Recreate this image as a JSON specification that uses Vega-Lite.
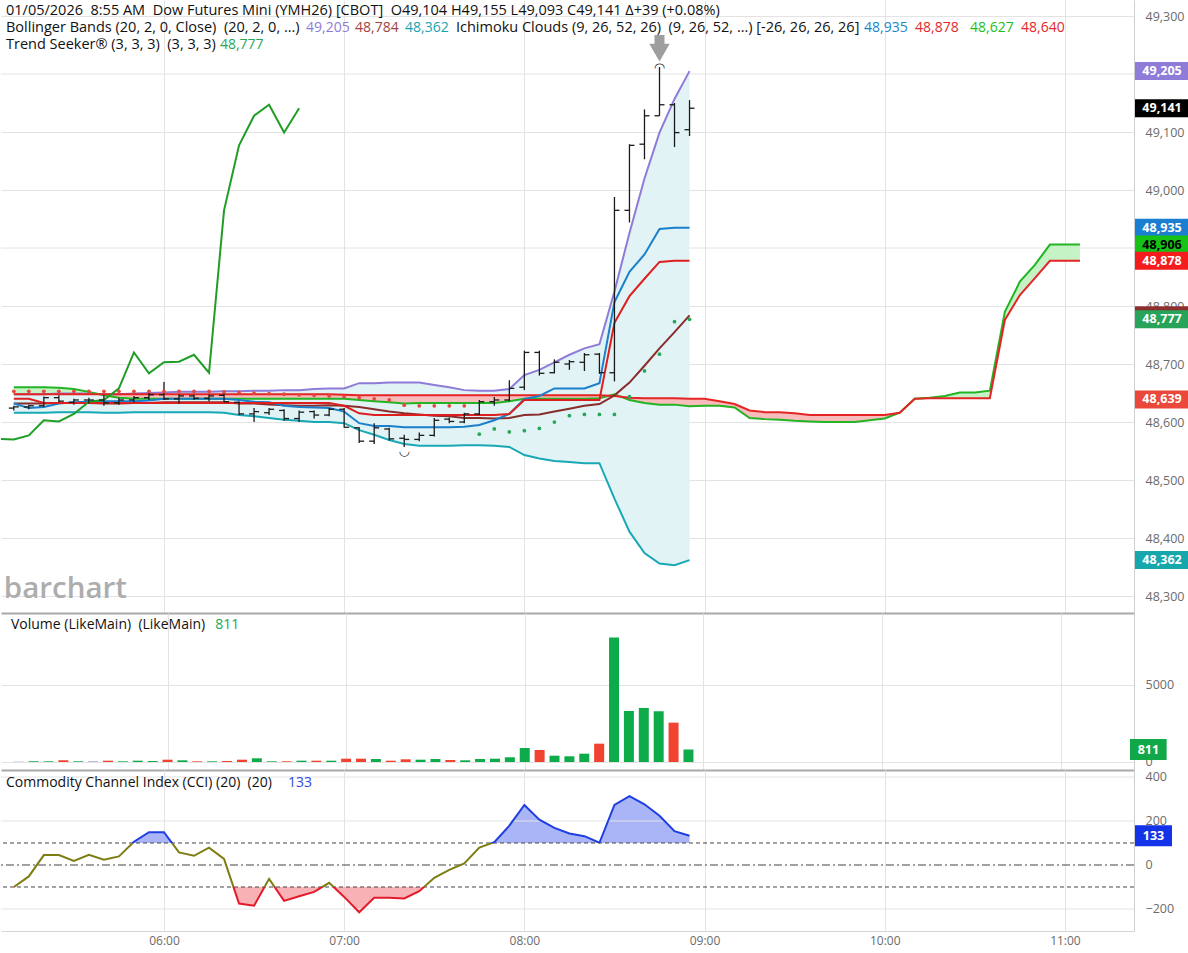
{
"$schema":"https://vega.github.io/schema/vega-lite/v6.json",
"padding":{"left":0,"top":0,"right":0,"bottom":5},"spacing":0,"background":"#ffffff",
"resolve":{"scale":{"color":"independent"}},
"config":{"view":{"stroke":null},"font":"Open Sans"},
"datasets":{
"one":[{}],
"bars":[
{"t":"2026-01-05T05:10Z","o":48624,"h":48628,"l":48620,"c":48626,"vol":20,"dir":"flat","bbU":48648,"bbM":48632,"bbL":48616,"tk":48632,"kj":48640,"ts":48653,"side":"sell","cci":-100},
{"t":"2026-01-05T05:15Z","o":48626,"h":48630,"l":48622,"c":48628,"vol":45,"dir":"up","bbU":48648,"bbM":48632,"bbL":48616,"tk":48624,"kj":48640,"ts":48653,"side":"sell","cci":-52},
{"t":"2026-01-05T05:20Z","o":48628,"h":48644,"l":48626,"c":48642,"vol":45,"dir":"up","bbU":48648,"bbM":48632,"bbL":48616,"tk":48626,"kj":48633,"ts":48653,"side":"sell","cci":45},
{"t":"2026-01-05T05:25Z","o":48642,"h":48646,"l":48634,"c":48636,"vol":110,"dir":"down","bbU":48649,"bbM":48633,"bbL":48617,"tk":48632,"kj":48633,"ts":48653,"side":"sell","cci":45},
{"t":"2026-01-05T05:30Z","o":48634,"h":48640,"l":48630,"c":48638,"vol":45,"dir":"up","bbU":48649,"bbM":48633,"bbL":48617,"tk":48634,"kj":48633,"ts":48653,"side":"sell","cci":19},
{"t":"2026-01-05T05:35Z","o":48638,"h":48642,"l":48632,"c":48638,"vol":45,"dir":"flat","bbU":48649,"bbM":48633,"bbL":48617,"tk":48635,"kj":48633,"ts":48653,"side":"sell","cci":46},
{"t":"2026-01-05T05:40Z","o":48638,"h":48646,"l":48628,"c":48633,"vol":85,"dir":"down","bbU":48648,"bbM":48632,"bbL":48616,"tk":48636,"kj":48633,"ts":48653,"side":"sell","cci":24},
{"t":"2026-01-05T05:45Z","o":48633,"h":48642,"l":48630,"c":48638,"vol":45,"dir":"up","bbU":48648,"bbM":48632,"bbL":48616,"tk":48636,"kj":48633,"ts":48653,"side":"sell","cci":39},
{"t":"2026-01-05T05:50Z","o":48638,"h":48645,"l":48634,"c":48642,"vol":85,"dir":"up","bbU":48649,"bbM":48633,"bbL":48617,"tk":48636,"kj":48633,"ts":48653,"side":"sell","cci":106},
{"t":"2026-01-05T05:55Z","o":48642,"h":48650,"l":48638,"c":48647,"vol":65,"dir":"up","bbU":48650,"bbM":48633,"bbL":48617,"tk":48637,"kj":48633,"ts":48653,"side":"sell","cci":149},
{"t":"2026-01-05T06:00Z","o":48647,"h":48669,"l":48638,"c":48640,"vol":150,"dir":"down","bbU":48651,"bbM":48634,"bbL":48617,"tk":48640,"kj":48633,"ts":48653,"side":"sell","cci":149},
{"t":"2026-01-05T06:05Z","o":48640,"h":48648,"l":48632,"c":48645,"vol":110,"dir":"up","bbU":48652,"bbM":48634,"bbL":48617,"tk":48640,"kj":48633,"ts":48653,"side":"sell","cci":57},
{"t":"2026-01-05T06:10Z","o":48645,"h":48647,"l":48638,"c":48641,"vol":45,"dir":"down","bbU":48652,"bbM":48634,"bbL":48617,"tk":48640,"kj":48633,"ts":48653,"side":"sell","cci":42},
{"t":"2026-01-05T06:15Z","o":48641,"h":48648,"l":48636,"c":48645,"vol":45,"dir":"up","bbU":48652,"bbM":48634,"bbL":48617,"tk":48640,"kj":48633,"ts":48653,"side":"sell","cci":79},
{"t":"2026-01-05T06:20Z","o":48646,"h":48650,"l":48634,"c":48635,"vol":65,"dir":"down","bbU":48653,"bbM":48634,"bbL":48616,"tk":48640,"kj":48633,"ts":48652,"side":"sell","cci":28},
{"t":"2026-01-05T06:25Z","o":48634,"h":48636,"l":48612,"c":48614,"vol":150,"dir":"down","bbU":48653,"bbM":48632,"bbL":48612,"tk":48638,"kj":48633,"ts":48651,"side":"sell","cci":-175},
{"t":"2026-01-05T06:30Z","o":48614,"h":48624,"l":48600,"c":48618,"vol":240,"dir":"up","bbU":48654,"bbM":48632,"bbL":48610,"tk":48635,"kj":48633,"ts":48650,"side":"sell","cci":-185},
{"t":"2026-01-05T06:35Z","o":48616,"h":48624,"l":48612,"c":48622,"vol":45,"dir":"up","bbU":48654,"bbM":48630,"bbL":48607,"tk":48634,"kj":48633,"ts":48649,"side":"sell","cci":-63},
{"t":"2026-01-05T06:40Z","o":48620,"h":48622,"l":48602,"c":48606,"vol":45,"dir":"down","bbU":48655,"bbM":48629,"bbL":48604,"tk":48628,"kj":48633,"ts":48648,"side":"sell","cci":-163},
{"t":"2026-01-05T06:45Z","o":48606,"h":48620,"l":48600,"c":48617,"vol":85,"dir":"up","bbU":48655,"bbM":48628,"bbL":48602,"tk":48626,"kj":48633,"ts":48647,"side":"sell","cci":-142},
{"t":"2026-01-05T06:50Z","o":48618,"h":48620,"l":48606,"c":48612,"vol":85,"dir":"down","bbU":48657,"bbM":48628,"bbL":48600,"tk":48625,"kj":48633,"ts":48646,"side":"sell","cci":-122},
{"t":"2026-01-05T06:55Z","o":48612,"h":48624,"l":48610,"c":48622,"vol":85,"dir":"up","bbU":48658,"bbM":48629,"bbL":48600,"tk":48624,"kj":48633,"ts":48645,"side":"sell","cci":-81},
{"t":"2026-01-05T07:00Z","o":48622,"h":48624,"l":48590,"c":48591,"vol":215,"dir":"down","bbU":48658,"bbM":48628,"bbL":48598,"tk":48618,"kj":48628,"ts":48644,"side":"sell","cci":-145},
{"t":"2026-01-05T07:05Z","o":48590,"h":48591,"l":48564,"c":48567,"vol":215,"dir":"down","bbU":48667,"bbM":48626,"bbL":48586,"tk":48598,"kj":48615,"ts":48642,"side":"sell","cci":-215},
{"t":"2026-01-05T07:10Z","o":48567,"h":48598,"l":48562,"c":48590,"vol":195,"dir":"up","bbU":48667,"bbM":48622,"bbL":48578,"tk":48593,"kj":48612,"ts":48640,"side":"sell","cci":-149},
{"t":"2026-01-05T07:15Z","o":48588,"h":48590,"l":48568,"c":48571,"vol":85,"dir":"down","bbU":48668,"bbM":48618,"bbL":48569,"tk":48593,"kj":48612,"ts":48638,"side":"sell","cci":-149},
{"t":"2026-01-05T07:20Z","o":48572,"h":48578,"l":48557,"c":48570,"vol":175,"dir":"down","bbU":48668,"bbM":48615,"bbL":48562,"tk":48591,"kj":48612,"ts":48629,"side":"sell","cci":-152},
{"t":"2026-01-05T07:25Z","o":48570,"h":48582,"l":48567,"c":48577,"vol":150,"dir":"up","bbU":48668,"bbM":48613,"bbL":48559,"tk":48591,"kj":48612,"ts":48628,"side":"sell","cci":-119},
{"t":"2026-01-05T07:30Z","o":48577,"h":48607,"l":48575,"c":48603,"vol":195,"dir":"up","bbU":48664,"bbM":48611,"bbL":48559,"tk":48591,"kj":48612,"ts":48628,"side":"sell","cci":-58},
{"t":"2026-01-05T07:35Z","o":48605,"h":48608,"l":48598,"c":48601,"vol":130,"dir":"down","bbU":48660,"bbM":48610,"bbL":48559,"tk":48591,"kj":48612,"ts":48628,"side":"sell","cci":-22},
{"t":"2026-01-05T07:40Z","o":48600,"h":48616,"l":48598,"c":48614,"vol":110,"dir":"up","bbU":48655,"bbM":48607,"bbL":48560,"tk":48592,"kj":48612,"ts":48628,"side":"sell","cci":7},
{"t":"2026-01-05T07:45Z","o":48614,"h":48638,"l":48612,"c":48635,"vol":195,"dir":"up","bbU":48654,"bbM":48607,"bbL":48560,"tk":48595,"kj":48612,"ts":48579,"side":"buy","cci":79},
{"t":"2026-01-05T07:50Z","o":48635,"h":48643,"l":48628,"c":48638,"vol":215,"dir":"up","bbU":48654,"bbM":48606,"bbL":48559,"tk":48603,"kj":48612,"ts":48588,"side":"buy","cci":104},
{"t":"2026-01-05T07:55Z","o":48638,"h":48672,"l":48636,"c":48658,"vol":305,"dir":"up","bbU":48657,"bbM":48607,"bbL":48557,"tk":48614,"kj":48614,"ts":48583,"side":"buy","cci":179},
{"t":"2026-01-05T08:00Z","o":48660,"h":48723,"l":48655,"c":48720,"vol":910,"dir":"up","bbU":48681,"bbM":48612,"bbL":48543,"tk":48640,"kj":48638,"ts":48585,"side":"buy","cci":273},
{"t":"2026-01-05T08:05Z","o":48720,"h":48723,"l":48680,"c":48684,"vol":780,"dir":"down","bbU":48690,"bbM":48613,"bbL":48537,"tk":48645,"kj":48638,"ts":48589,"side":"buy","cci":206},
{"t":"2026-01-05T08:10Z","o":48685,"h":48708,"l":48684,"c":48703,"vol":410,"dir":"up","bbU":48703,"bbM":48618,"bbL":48533,"tk":48658,"kj":48638,"ts":48600,"side":"buy","cci":169},
{"t":"2026-01-05T08:15Z","o":48700,"h":48707,"l":48690,"c":48704,"vol":370,"dir":"up","bbU":48716,"bbM":48623,"bbL":48531,"tk":48658,"kj":48638,"ts":48611,"side":"buy","cci":143},
{"t":"2026-01-05T08:20Z","o":48703,"h":48719,"l":48688,"c":48716,"vol":540,"dir":"up","bbU":48727,"bbM":48628,"bbL":48529,"tk":48658,"kj":48638,"ts":48613,"side":"buy","cci":131},
{"t":"2026-01-05T08:25Z","o":48717,"h":48719,"l":48683,"c":48685,"vol":1190,"dir":"down","bbU":48734,"bbM":48631,"bbL":48529,"tk":48667,"kj":48638,"ts":48613,"side":"buy","cci":101},
{"t":"2026-01-05T08:30Z","o":48685,"h":48988,"l":48670,"c":48965,"vol":8080,"dir":"up","bbU":48825,"bbM":48646,"bbL":48468,"tk":48807,"kj":48771,"ts":48613,"side":"buy","cci":273},
{"t":"2026-01-05T08:35Z","o":48965,"h":49079,"l":48944,"c":49077,"vol":3315,"dir":"up","bbU":48926,"bbM":48668,"bbL":48411,"tk":48859,"kj":48817,"ts":48644,"side":"buy","cci":313},
{"t":"2026-01-05T08:40Z","o":49079,"h":49139,"l":49053,"c":49128,"vol":3510,"dir":"up","bbU":49020,"bbM":48697,"bbL":48374,"tk":48889,"kj":48847,"ts":48688,"side":"buy","cci":276},
{"t":"2026-01-05T08:45Z","o":49128,"h":49212,"l":49128,"c":49147,"vol":3295,"dir":"up","bbU":49099,"bbM":48727,"bbL":48356,"tk":48933,"kj":48876,"ts":48717,"side":"buy","cci":224},
{"t":"2026-01-05T08:50Z","o":49147,"h":49150,"l":49074,"c":49099,"vol":2555,"dir":"down","bbU":49157,"bbM":48755,"bbL":48353,"tk":48935,"kj":48878,"ts":48773,"side":"buy","cci":154},
{"t":"2026-01-05T08:55Z","o":49104,"h":49155,"l":49093,"c":49141,"vol":811,"dir":"up","bbU":49205,"bbM":48784,"bbL":48362,"tk":48935,"kj":48878,"ts":48777,"side":"buy","cci":133}
],
"cloud":[
{"t":"2026-01-05T05:10Z","a":48660,"b":48648},{"t":"2026-01-05T05:15Z","a":48660,"b":48648},{"t":"2026-01-05T05:20Z","a":48660,"b":48648},{"t":"2026-01-05T05:25Z","a":48659,"b":48648},{"t":"2026-01-05T05:30Z","a":48657,"b":48648},{"t":"2026-01-05T05:35Z","a":48652,"b":48648},{"t":"2026-01-05T05:40Z","a":48646,"b":48648},{"t":"2026-01-05T05:45Z","a":48642,"b":48648},{"t":"2026-01-05T05:50Z","a":48640,"b":48648},{"t":"2026-01-05T05:55Z","a":48640,"b":48648},
{"t":"2026-01-05T06:00Z","a":48640,"b":48648},{"t":"2026-01-05T06:05Z","a":48640,"b":48648},{"t":"2026-01-05T06:10Z","a":48640,"b":48648},{"t":"2026-01-05T06:15Z","a":48640,"b":48648},{"t":"2026-01-05T06:20Z","a":48640,"b":48648},{"t":"2026-01-05T06:25Z","a":48640,"b":48648},{"t":"2026-01-05T06:30Z","a":48640,"b":48648},{"t":"2026-01-05T06:35Z","a":48640,"b":48648},{"t":"2026-01-05T06:40Z","a":48640,"b":48648},{"t":"2026-01-05T06:45Z","a":48640,"b":48648},{"t":"2026-01-05T06:50Z","a":48640,"b":48648},{"t":"2026-01-05T06:55Z","a":48640,"b":48648},
{"t":"2026-01-05T07:00Z","a":48640,"b":48647},{"t":"2026-01-05T07:05Z","a":48638,"b":48646},{"t":"2026-01-05T07:10Z","a":48636,"b":48646},{"t":"2026-01-05T07:15Z","a":48634,"b":48646},{"t":"2026-01-05T07:20Z","a":48632,"b":48646},{"t":"2026-01-05T07:25Z","a":48633,"b":48646},{"t":"2026-01-05T07:30Z","a":48633,"b":48646},{"t":"2026-01-05T07:35Z","a":48633,"b":48646},{"t":"2026-01-05T07:40Z","a":48633,"b":48646},{"t":"2026-01-05T07:45Z","a":48633,"b":48646},{"t":"2026-01-05T07:50Z","a":48633,"b":48646},{"t":"2026-01-05T07:55Z","a":48636,"b":48646},
{"t":"2026-01-05T08:00Z","a":48640,"b":48646},{"t":"2026-01-05T08:05Z","a":48640,"b":48646},{"t":"2026-01-05T08:10Z","a":48640,"b":48646},{"t":"2026-01-05T08:15Z","a":48640,"b":48646},{"t":"2026-01-05T08:20Z","a":48640,"b":48646},{"t":"2026-01-05T08:25Z","a":48641,"b":48646},{"t":"2026-01-05T08:30Z","a":48648,"b":48645},{"t":"2026-01-05T08:35Z","a":48638,"b":48642},{"t":"2026-01-05T08:40Z","a":48633,"b":48641},{"t":"2026-01-05T08:45Z","a":48630,"b":48641},{"t":"2026-01-05T08:50Z","a":48630,"b":48641},{"t":"2026-01-05T08:55Z","a":48627,"b":48640},
{"t":"2026-01-05T09:00Z","a":48628,"b":48640},{"t":"2026-01-05T09:05Z","a":48628,"b":48636},{"t":"2026-01-05T09:10Z","a":48625,"b":48631},{"t":"2026-01-05T09:15Z","a":48607,"b":48620},{"t":"2026-01-05T09:20Z","a":48605,"b":48617},{"t":"2026-01-05T09:25Z","a":48604,"b":48617},{"t":"2026-01-05T09:30Z","a":48602,"b":48615},{"t":"2026-01-05T09:35Z","a":48601,"b":48612},{"t":"2026-01-05T09:40Z","a":48600,"b":48612},{"t":"2026-01-05T09:45Z","a":48600,"b":48612},{"t":"2026-01-05T09:50Z","a":48600,"b":48612},{"t":"2026-01-05T09:55Z","a":48603,"b":48612},
{"t":"2026-01-05T10:00Z","a":48606,"b":48612},{"t":"2026-01-05T10:05Z","a":48616,"b":48616},{"t":"2026-01-05T10:10Z","a":48640,"b":48640},{"t":"2026-01-05T10:15Z","a":48642,"b":48641},{"t":"2026-01-05T10:20Z","a":48645,"b":48641},{"t":"2026-01-05T10:25Z","a":48651,"b":48641},{"t":"2026-01-05T10:30Z","a":48651,"b":48641},{"t":"2026-01-05T10:35Z","a":48654,"b":48641},{"t":"2026-01-05T10:40Z","a":48790,"b":48776},{"t":"2026-01-05T10:45Z","a":48842,"b":48819},{"t":"2026-01-05T10:50Z","a":48871,"b":48848},{"t":"2026-01-05T10:55Z","a":48906,"b":48878},
{"t":"2026-01-05T11:00Z","a":48906,"b":48878},{"t":"2026-01-05T11:05Z","a":48906,"b":48878}
],
"lag":[
{"t":"2026-01-05T05:05Z","lag":48571},{"t":"2026-01-05T05:10Z","lag":48570},{"t":"2026-01-05T05:15Z","lag":48577},{"t":"2026-01-05T05:20Z","lag":48603},{"t":"2026-01-05T05:25Z","lag":48601},{"t":"2026-01-05T05:30Z","lag":48614},{"t":"2026-01-05T05:35Z","lag":48635},{"t":"2026-01-05T05:40Z","lag":48638},{"t":"2026-01-05T05:45Z","lag":48658},{"t":"2026-01-05T05:50Z","lag":48720},{"t":"2026-01-05T05:55Z","lag":48684},
{"t":"2026-01-05T06:00Z","lag":48703},{"t":"2026-01-05T06:05Z","lag":48704},{"t":"2026-01-05T06:10Z","lag":48716},{"t":"2026-01-05T06:15Z","lag":48685},{"t":"2026-01-05T06:20Z","lag":48965},{"t":"2026-01-05T06:25Z","lag":49077},{"t":"2026-01-05T06:30Z","lag":49128},{"t":"2026-01-05T06:35Z","lag":49147},{"t":"2026-01-05T06:40Z","lag":49099},{"t":"2026-01-05T06:45Z","lag":49141}
],
"tags":[
{"s":"BB upper","v":49205},{"s":"Last","v":49141},{"s":"Tenkan","v":48935},{"s":"Senkou A","v":48906},{"s":"Kijun","v":48878},{"s":"BB middle","v":48784},{"s":"Trend Seeker","v":48777},{"s":"Senkou B","v":48639},{"s":"BB lower","v":48362}
]
},
"vconcat":[
{
"width":1133,"height":613,
"layer":[
{"data":{"name":"one"},"mark":{"type":"rule","color":"#e3e3e3","strokeWidth":1},"encoding":{"y":{"datum":49200,"type":"quantitative"}}},
{"data":{"name":"one"},"mark":{"type":"rule","color":"#e3e3e3","strokeWidth":1},"encoding":{"y":{"datum":48900,"type":"quantitative"}}},
{"data":{"name":"bars"},"mark":{"type":"area","fill":"#e1f3f5","opacity":1},
 "encoding":{
  "x":{"field":"t","type":"temporal","title":null,"scale":{"type":"utc","domain":[1767589544000,1767612180000],"nice":false},
       "axis":{"values":[1767592800000,1767596400000,1767600000000,1767603600000,1767607200000,1767610800000],"grid":true,"gridColor":"#e3e3e3","labels":false,"ticks":false,"domain":true,"domainColor":"#a9a9a9","domainWidth":2,"title":null}},
  "y":{"field":"bbU","type":"quantitative","title":null,"scale":{"domain":[48270.75,49327.6],"nice":false,"zero":false},
       "axis":{"orient":"right","values":[48300,48400,48500,48600,48700,48800,49000,49100,49300],"format":",d","ticks":false,"labelPadding":11,"grid":true,"gridColor":"#e3e3e3","domain":true,"domainColor":"#cfcfcf","labelColor":"#6b6b6b","labelFontSize":12.5,"title":null}},
  "y2":{"field":"bbL"}}},
{"data":{"name":"cloud"},"mark":{"type":"area","opacity":1,"fill":{"gradient":"linear","x1":0,"y1":0,"x2":1,"y2":0,"stops":[{"offset":0,"color":"#c6f3c6"},{"offset":0.0798,"color":"#c6f3c6"},{"offset":0.0798,"color":"#f8bcbc"},{"offset":0.5581,"color":"#f8bcbc"},{"offset":0.5581,"color":"#c6f3c6"},{"offset":0.5694,"color":"#c6f3c6"},{"offset":0.5694,"color":"#f8bcbc"},{"offset":0.8451,"color":"#f8bcbc"},{"offset":0.8451,"color":"#c6f3c6"},{"offset":1,"color":"#c6f3c6"}]}},
 "encoding":{"x":{"field":"t","type":"temporal","title":null,"scale":{"type":"utc"}},"y":{"field":"a","type":"quantitative","title":null},"y2":{"field":"b"}}},
{"data":{"name":"bars"},"mark":{"type":"line","color":"#8f7bd8","strokeWidth":2},
 "encoding":{"x":{"field":"t","type":"temporal","title":null,"scale":{"type":"utc"}},"y":{"field":"bbU","type":"quantitative","title":null}}},
{"data":{"name":"bars"},"mark":{"type":"line","color":"#18a8b6","strokeWidth":2},
 "encoding":{"x":{"field":"t","type":"temporal","title":null,"scale":{"type":"utc"}},"y":{"field":"bbL","type":"quantitative","title":null}}},
{"data":{"name":"cloud"},"mark":{"type":"line","color":"#22b422","strokeWidth":2},
 "encoding":{"x":{"field":"t","type":"temporal","title":null,"scale":{"type":"utc"}},"y":{"field":"a","type":"quantitative","title":null}}},
{"data":{"name":"cloud"},"mark":{"type":"line","color":"#e52424","strokeWidth":2},
 "encoding":{"x":{"field":"t","type":"temporal","title":null,"scale":{"type":"utc"}},"y":{"field":"b","type":"quantitative","title":null}}},
{"data":{"name":"bars"},"mark":{"type":"line","color":"#8b2c2c","strokeWidth":2},
 "encoding":{"x":{"field":"t","type":"temporal","title":null,"scale":{"type":"utc"}},"y":{"field":"bbM","type":"quantitative","title":null}}},
{"data":{"name":"bars"},"mark":{"type":"line","color":"#1a80cc","strokeWidth":2},
 "encoding":{"x":{"field":"t","type":"temporal","title":null,"scale":{"type":"utc"}},"y":{"field":"tk","type":"quantitative","title":null}}},
{"data":{"name":"bars"},"mark":{"type":"line","color":"#dd1f1f","strokeWidth":2},
 "encoding":{"x":{"field":"t","type":"temporal","title":null,"scale":{"type":"utc"}},"y":{"field":"kj","type":"quantitative","title":null}}},
{"data":{"name":"lag"},"mark":{"type":"line","color":"#1f9e26","strokeWidth":2,"clip":true},
 "encoding":{"x":{"field":"t","type":"temporal","title":null,"scale":{"type":"utc"}},"y":{"field":"lag","type":"quantitative","title":null}}},
{"data":{"name":"bars"},"mark":{"type":"rule","color":"#1a1a1a","strokeWidth":1.3},
 "encoding":{"x":{"field":"t","type":"temporal","title":null,"scale":{"type":"utc"}},"y":{"field":"l","type":"quantitative","title":null},"y2":{"field":"h"}}},
{"data":{"name":"bars"},"mark":{"type":"tick","orient":"horizontal","size":5,"thickness":1.3,"xOffset":-2.5,"color":"#1a1a1a","opacity":1},
 "encoding":{"x":{"field":"t","type":"temporal","title":null,"scale":{"type":"utc"}},"y":{"field":"o","type":"quantitative","title":null}}},
{"data":{"name":"bars"},"mark":{"type":"tick","orient":"horizontal","size":5,"thickness":1.3,"xOffset":2.5,"color":"#1a1a1a","opacity":1},
 "encoding":{"x":{"field":"t","type":"temporal","title":null,"scale":{"type":"utc"}},"y":{"field":"c","type":"quantitative","title":null}}},
{"data":{"name":"bars"},"transform":[{"filter":"datum.side == 'sell'"}],"mark":{"type":"circle","size":14,"color":"#e5483c","opacity":1},
 "encoding":{"x":{"field":"t","type":"temporal","title":null,"scale":{"type":"utc"}},"y":{"field":"ts","type":"quantitative","title":null}}},
{"data":{"name":"bars"},"transform":[{"filter":"datum.side == 'buy'"}],"mark":{"type":"circle","size":14,"color":"#2aa55a","opacity":1},
 "encoding":{"x":{"field":"t","type":"temporal","title":null,"scale":{"type":"utc"}},"y":{"field":"ts","type":"quantitative","title":null}}},
{"data":{"name":"one"},"mark":{"type":"rule","color":"#9e9e9e","strokeWidth":10},
 "encoding":{"x":{"datum":1767602700000,"type":"temporal","scale":{"type":"utc"}},"y":{"datum":49267.3,"type":"quantitative"},"y2":{"datum":49241}}},
{"data":{"name":"one"},"mark":{"type":"point","shape":"triangle-down","size":420,"filled":true,"color":"#9e9e9e","strokeWidth":0,"opacity":1},
 "encoding":{"x":{"datum":1767602700000,"type":"temporal","scale":{"type":"utc"}},"y":{"datum":49237,"type":"quantitative"}}},
{"data":{"name":"one"},"mark":{"type":"text","align":"center","baseline":"middle","fontSize":13,"font":"DejaVu Sans","color":"#333333"},
 "encoding":{"x":{"datum":1767602700000,"type":"temporal","scale":{"type":"utc"}},"y":{"datum":49210,"type":"quantitative"},"text":{"value":"◠"}}},
{"data":{"name":"one"},"mark":{"type":"text","align":"center","baseline":"middle","fontSize":13,"font":"DejaVu Sans","color":"#333333"},
 "encoding":{"x":{"datum":1767597600000,"type":"temporal","scale":{"type":"utc"}},"y":{"datum":48550,"type":"quantitative"},"text":{"value":"◡"}}},
{"data":{"name":"one"},"mark":{"type":"text","align":"left","baseline":"alphabetic","fontSize":29.5,"fontWeight":600,"color":"#adadad"},
 "encoding":{"x":{"datum":1767589600000,"type":"temporal","scale":{"type":"utc"}},"y":{"datum":48296.6,"type":"quantitative"},"text":{"value":"barchart"}}},
{"data":{"name":"one"},"mark":{"type":"text","align":"left","baseline":"middle","fontSize":14.5,"color":"#111111"},
 "encoding":{"x":{"datum":1767589644000,"type":"temporal","scale":{"type":"utc"}},"y":{"datum":49307.8,"type":"quantitative"},"text":{"value":"01/05/2026\u00a0 8:55 AM\u00a0 Dow Futures Mini (YMH26) [CBOT]\u00a0 O49,104 H49,155 L49,093 C49,141 \u0394+39 (+0.08%)"}}},
{"data":{"name":"one"},"mark":{"type":"text","align":"left","baseline":"middle","fontSize":14.5,"color":"#111111"},
 "encoding":{"x":{"datum":1767589644000,"type":"temporal","scale":{"type":"utc"}},"y":{"datum":49278.5,"type":"quantitative"},"text":{"value":"Bollinger Bands (20, 2, 0, Close)\u00a0 (20, 2, 0, ...)"}}},
{"data":{"name":"one"},"mark":{"type":"text","align":"left","baseline":"middle","fontSize":14,"color":"#8f7bd8"},
 "encoding":{"x":{"datum":1767595638000,"type":"temporal","scale":{"type":"utc"}},"y":{"datum":49278.5,"type":"quantitative"},"text":{"value":"49,205"}}},
{"data":{"name":"one"},"mark":{"type":"text","align":"left","baseline":"middle","fontSize":14,"color":"#a0443e"},
 "encoding":{"x":{"datum":1767596617000,"type":"temporal","scale":{"type":"utc"}},"y":{"datum":49278.5,"type":"quantitative"},"text":{"value":"48,784"}}},
{"data":{"name":"one"},"mark":{"type":"text","align":"left","baseline":"middle","fontSize":14,"color":"#1aa3b0"},
 "encoding":{"x":{"datum":1767597616000,"type":"temporal","scale":{"type":"utc"}},"y":{"datum":49278.5,"type":"quantitative"},"text":{"value":"48,362"}}},
{"data":{"name":"one"},"mark":{"type":"text","align":"left","baseline":"middle","fontSize":14.5,"color":"#111111"},
 "encoding":{"x":{"datum":1767598634000,"type":"temporal","scale":{"type":"utc"}},"y":{"datum":49278.5,"type":"quantitative"},"text":{"value":"Ichimoku Clouds (9, 26, 52, 26)\u00a0 (9, 26, 52, ...) [-26, 26, 26, 26]"}}},
{"data":{"name":"one"},"mark":{"type":"text","align":"left","baseline":"middle","fontSize":14,"color":"#1a86c8"},
 "encoding":{"x":{"datum":1767606786000,"type":"temporal","scale":{"type":"utc"}},"y":{"datum":49278.5,"type":"quantitative"},"text":{"value":"48,935"}}},
{"data":{"name":"one"},"mark":{"type":"text","align":"left","baseline":"middle","fontSize":14,"color":"#e22a2a"},
 "encoding":{"x":{"datum":1767607805000,"type":"temporal","scale":{"type":"utc"}},"y":{"datum":49278.5,"type":"quantitative"},"text":{"value":"48,878"}}},
{"data":{"name":"one"},"mark":{"type":"text","align":"left","baseline":"middle","fontSize":14,"color":"#20bf20"},
 "encoding":{"x":{"datum":1767608904000,"type":"temporal","scale":{"type":"utc"}},"y":{"datum":49278.5,"type":"quantitative"},"text":{"value":"48,627"}}},
{"data":{"name":"one"},"mark":{"type":"text","align":"left","baseline":"middle","fontSize":14,"color":"#e22a2a"},
 "encoding":{"x":{"datum":1767609923000,"type":"temporal","scale":{"type":"utc"}},"y":{"datum":49278.5,"type":"quantitative"},"text":{"value":"48,640"}}},
{"data":{"name":"one"},"mark":{"type":"text","align":"left","baseline":"middle","fontSize":14.5,"color":"#111111"},
 "encoding":{"x":{"datum":1767589644000,"type":"temporal","scale":{"type":"utc"}},"y":{"datum":49249.2,"type":"quantitative"},"text":{"value":"Trend Seeker\u00ae (3, 3, 3)\u00a0 (3, 3, 3)"}}},
{"data":{"name":"one"},"mark":{"type":"text","align":"left","baseline":"middle","fontSize":14,"color":"#25a85a"},
 "encoding":{"x":{"datum":1767593919000,"type":"temporal","scale":{"type":"utc"}},"y":{"datum":49249.2,"type":"quantitative"},"text":{"value":"48,777"}}},
{"data":{"name":"tags"},"mark":{"type":"rect","yOffset":-9,"y2Offset":9,"opacity":1},
 "encoding":{"x":{"datum":1767612200000,"type":"temporal","scale":{"type":"utc"}},"x2":{"datum":1767613279000},"y":{"field":"v","type":"quantitative","title":null},"y2":{"field":"v"},
  "color":{"field":"s","type":"nominal","legend":null,"scale":{"domain":["BB upper","Last","Tenkan","Senkou A","Kijun","BB middle","Trend Seeker","Senkou B","BB lower"],"range":["#8f7bd8","#000000","#1a7fd1","#16c216","#f41c1c","#8e2f2f","#27a35a","#e9483b","#16a7ad"]}}}},
{"data":{"name":"tags"},"transform":[{"filter":"datum.s !== 'BB middle'"}],"mark":{"type":"text","align":"center","baseline":"middle","fontSize":12.5,"fontWeight":"bold"},
 "encoding":{"x":{"datum":1767612740000,"type":"temporal","scale":{"type":"utc"}},"y":{"field":"v","type":"quantitative","title":null},
  "text":{"field":"v","type":"quantitative","format":",d"},
  "color":{"condition":{"test":"datum.s === 'Senkou A'","value":"#000000"},"value":"#ffffff"}}}
]
},
{
"width":1133,"height":157,
"layer":[
{"data":{"name":"bars"},"mark":{"type":"bar","size":10,"opacity":1},
 "encoding":{
  "x":{"field":"t","type":"temporal","title":null,"scale":{"type":"utc","domain":[1767589544000,1767612180000],"nice":false},
       "axis":{"values":[1767592800000,1767596400000,1767600000000,1767603600000,1767607200000,1767610800000],"grid":true,"gridColor":"#e3e3e3","labels":false,"ticks":false,"domain":true,"domainColor":"#a9a9a9","domainWidth":2,"title":null}},
  "y":{"field":"vol","type":"quantitative","title":null,"scale":{"domain":[-519.5,9675],"nice":false,"zero":false},
       "axis":{"orient":"right","values":[0,5000],"format":"d","ticks":false,"labelPadding":11,"grid":true,"gridColor":"#e3e3e3","domain":true,"domainColor":"#cfcfcf","labelColor":"#6b6b6b","labelFontSize":12.5,"title":null}},
  "color":{"field":"dir","type":"nominal","legend":null,"scale":{"domain":["up","down","flat"],"range":["#0eab4b","#f1432f","#9c97d6"]}}}},
{"data":{"name":"one"},"mark":{"type":"text","align":"left","baseline":"middle","fontSize":14,"color":"#111111"},
 "encoding":{"x":{"datum":1767589644000,"type":"temporal","scale":{"type":"utc"}},"y":{"datum":8896,"type":"quantitative"},"text":{"value":"Volume (LikeMain)\u00a0 (LikeMain)"}}},
{"data":{"name":"one"},"mark":{"type":"text","align":"left","baseline":"middle","fontSize":14,"color":"#21a653"},
 "encoding":{"x":{"datum":1767593760000,"type":"temporal","scale":{"type":"utc"}},"y":{"datum":8896,"type":"quantitative"},"text":{"value":"811"}}},
{"data":{"name":"one"},"mark":{"type":"rect","yOffset":-10.5,"y2Offset":10.5,"color":"#11a84a","opacity":1},
 "encoding":{"x":{"datum":1767612200000,"type":"temporal","scale":{"type":"utc"}},"x2":{"datum":1767612939000},"y":{"datum":811,"type":"quantitative"},"y2":{"datum":811}}},
{"data":{"name":"one"},"mark":{"type":"text","align":"center","baseline":"middle","fontSize":12.5,"fontWeight":"bold","color":"#ffffff"},
 "encoding":{"x":{"datum":1767612570000,"type":"temporal","scale":{"type":"utc"}},"y":{"datum":811,"type":"quantitative"},"text":{"value":"811"}}}
]
},
{
"width":1133,"height":161,
"layer":[
{"data":{"name":"bars"},"mark":{"type":"area","opacity":1,"fill":{"gradient":"linear","x1":0,"y1":0,"x2":0,"y2":1,"stops":[{"offset":0,"color":"#aab5f8"},{"offset":0.40341,"color":"#aab5f8"},{"offset":0.40341,"color":"rgba(255,255,255,0)"},{"offset":1,"color":"rgba(255,255,255,0)"}]}},
 "encoding":{
  "x":{"field":"t","type":"temporal","title":null,"scale":{"type":"utc","domain":[1767589544000,1767612180000],"nice":false},
       "axis":{"values":[1767592800000,1767596400000,1767600000000,1767603600000,1767607200000,1767610800000],"format":"%H:%M","grid":true,"gridColor":"#e3e3e3","labels":true,"labelColor":"#6b6b6b","labelFontSize":12,"labelPadding":4,"ticks":false,"domain":true,"domainColor":"#d6d6d6","domainWidth":1,"title":null}},
  "y":{"field":"cci","type":"quantitative","title":null,"scale":{"domain":[-300,431.8],"nice":false,"zero":false},
       "axis":{"orient":"right","values":[-200,0,200,400],"format":"d","ticks":false,"labelPadding":11,"grid":false,"domain":true,"domainColor":"#cfcfcf","labelColor":"#6b6b6b","labelFontSize":12.5,"title":null}},
  "y2":{"datum":100}}},
{"data":{"name":"bars"},"mark":{"type":"area","opacity":1,"fill":{"gradient":"linear","x1":0,"y1":0,"x2":0,"y2":1,"stops":[{"offset":0,"color":"rgba(255,255,255,0)"},{"offset":0.7822,"color":"rgba(255,255,255,0)"},{"offset":0.7822,"color":"#f8b2b6"},{"offset":1,"color":"#f8b2b6"}]}},
 "encoding":{"x":{"field":"t","type":"temporal","title":null,"scale":{"type":"utc"}},"y":{"field":"cci","type":"quantitative","title":null},"y2":{"datum":-100}}},
{"data":{"name":"one"},"mark":{"type":"rule","color":"#e3e3e3","strokeWidth":1},"encoding":{"y":{"datum":400,"type":"quantitative"}}},
{"data":{"name":"one"},"mark":{"type":"rule","color":"#e3e3e3","strokeWidth":1},"encoding":{"y":{"datum":200,"type":"quantitative"}}},
{"data":{"name":"one"},"mark":{"type":"rule","color":"#e3e3e3","strokeWidth":1},"encoding":{"y":{"datum":-200,"type":"quantitative"}}},
{"data":{"name":"one"},"mark":{"type":"rule","color":"#444444","strokeWidth":1,"strokeDash":[4,3]},"encoding":{"y":{"datum":100,"type":"quantitative"}}},
{"data":{"name":"one"},"mark":{"type":"rule","color":"#444444","strokeWidth":1,"strokeDash":[4,3]},"encoding":{"y":{"datum":-100,"type":"quantitative"}}},
{"data":{"name":"one"},"mark":{"type":"rule","color":"#444444","strokeWidth":1,"strokeDash":[8,3,2,3]},"encoding":{"y":{"datum":0,"type":"quantitative"}}},
{"data":{"name":"bars"},"mark":{"type":"line","strokeWidth":2,"stroke":{"gradient":"linear","x1":0,"y1":0,"x2":0,"y2":1,"stops":[{"offset":0,"color":"#1f3ee0"},{"offset":0.40341,"color":"#1f3ee0"},{"offset":0.40341,"color":"#7d7d12"},{"offset":0.7822,"color":"#7d7d12"},{"offset":0.7822,"color":"#e41a2a"},{"offset":1,"color":"#e41a2a"}]}},
 "encoding":{"x":{"field":"t","type":"temporal","title":null,"scale":{"type":"utc"}},"y":{"field":"cci","type":"quantitative","title":null}}},
{"data":{"name":"one"},"mark":{"type":"text","align":"left","baseline":"middle","fontSize":14,"color":"#111111"},
 "encoding":{"x":{"datum":1767589644000,"type":"temporal","scale":{"type":"utc"}},"y":{"datum":372.7,"type":"quantitative"},"text":{"value":"Commodity Channel Index (CCI) (20)\u00a0 (20)"}}},
{"data":{"name":"one"},"mark":{"type":"text","align":"left","baseline":"middle","fontSize":14,"color":"#2a4be8"},
 "encoding":{"x":{"datum":1767595278000,"type":"temporal","scale":{"type":"utc"}},"y":{"datum":372.7,"type":"quantitative"},"text":{"value":"133"}}},
{"data":{"name":"one"},"mark":{"type":"rect","yOffset":-10.5,"y2Offset":10.5,"color":"#1233e8","opacity":1},
 "encoding":{"x":{"datum":1767612200000,"type":"temporal","scale":{"type":"utc"}},"x2":{"datum":1767612939000},"y":{"datum":133,"type":"quantitative"},"y2":{"datum":133}}},
{"data":{"name":"one"},"mark":{"type":"text","align":"center","baseline":"middle","fontSize":12.5,"fontWeight":"bold","color":"#ffffff"},
 "encoding":{"x":{"datum":1767612570000,"type":"temporal","scale":{"type":"utc"}},"y":{"datum":133,"type":"quantitative"},"text":{"value":"133"}}}
]
}
]
}
